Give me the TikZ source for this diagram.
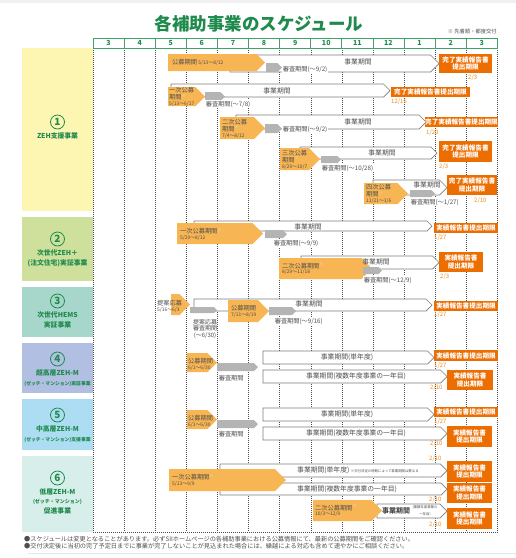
\documentclass[tikz,border=0pt]{standalone}
\usepackage{fontspec}
\setmainfont{Noto Sans CJK JP}
\usetikzlibrary{positioning}
\definecolor{mgreen}{HTML}{1E8A4C}
\definecolor{hgreen}{HTML}{3FA266}
\definecolor{korange}{HTML}{F7B553}
\definecolor{dorange}{HTML}{EC6D00}
\definecolor{lorange}{HTML}{F08C20}
\definecolor{sgray}{HTML}{B4B4B4}
\definecolor{agray}{HTML}{7D7D7D}
\definecolor{tgray}{HTML}{4E4E4E}
\definecolor{bgyellow}{HTML}{FDF6B3}
\definecolor{bggreen}{HTML}{CFE09C}
\definecolor{bgteal}{HTML}{A6D7CA}
\definecolor{bgviolet}{HTML}{B1BFE2}
\definecolor{bgblue}{HTML}{ADDDF3}
\definecolor{bgpale}{HTML}{D7EEEA}

% bar with a pointed end: style, left x, tip x, top y, bottom y
\newcommand{\penta}[5]{\path[#1] (#2,#4) -- ({#3-(#5-#4)/2},#4) -- (#3,{(#4+#5)/2}) -- ({#3-(#5-#4)/2},#5) -- (#2,#5) -- cycle;}
\newcommand{\kome}{\textsuperscript{\color{white!75!gray}※}}
\newcommand{\dt}[1]{{\fontsize{4.9}{5.6}\selectfont #1}}

\begin{document}
\begin{tikzpicture}[x=1pt, y=-1pt,
  koubo/.style={fill=korange},
  shinsa/.style={fill=sgray},
  jigyo/.style={fill=white, draw=agray, line width=0.7pt},
  gridline/.style={draw=black!70, line width=0.4pt, dash pattern=on 1pt off 1pt},
  hdr/.style={draw=hgreen, line width=0.8pt},
  mon/.style={text=mgreen, font=\fontsize{7}{7}\selectfont\bfseries, inner sep=0pt},
  limit/.style={fill=dorange, text=white, font=\fontsize{6.6}{7.6}\selectfont\bfseries, inner sep=0pt, align=center},
  hiduke/.style={text=lorange, font=\fontsize{6}{6}\selectfont, inner sep=0pt, anchor=west},
  ktext/.style={text=tgray, font=\fontsize{6.2}{5.8}\selectfont, inner sep=0pt, anchor=west, align=left},
  stext/.style={text=tgray, font=\fontsize{6.2}{6.2}\selectfont, inner sep=0.6pt, anchor=west, fill=white},
  jtext/.style={text=tgray, font=\fontsize{6.8}{6.8}\selectfont, inner sep=0pt},
  tiny/.style={text=tgray, font=\fontsize{3.4}{3.4}\selectfont, inner sep=0pt},
  num/.style={circle, draw=mgreen, line width=0.8pt, text=mgreen, minimum size=14pt, inner sep=0pt, font=\fontsize{10}{10}\selectfont\bfseries},
  cat/.style={text=mgreen, font=\fontsize{6.8}{9.6}\selectfont\bfseries, align=center, inner sep=0pt},
  note/.style={text=tgray, font=\fontsize{6.2}{6.2}\selectfont, inner sep=0pt, anchor=west}
]
\useasboundingbox (0,0) rectangle (516,558);
\fill[black!6] (0,0) rectangle (516,3);

% title
\node[text=mgreen, font=\fontsize{17.5}{17.5}\selectfont\bfseries, inner sep=0pt] (title) at (259,24) {各補助事業のスケジュール};
\node[text=tgray, font=\fontsize{5.3}{5.3}\selectfont, inner sep=0pt, anchor=east] (kofu) at (497,31) {※ 先着順・都度交付};

% month grid
\foreach \i in {0,...,13}
  \draw[gridline] ({93+31.1*\i},48) -- ({93+31.1*\i},532);
\draw[gridline] (93,532) -- (497.3,532);
\draw[hdr] (93,38) rectangle (497.3,48);
\foreach \i in {1,...,12}
  \draw[hdr] ({93+31.1*\i},38) -- ({93+31.1*\i},48);
\foreach \m [count=\i from 0] in {3,4,5,6,7,8,9,10,11,12,1,2,3}
  \node[mon] (m\i) at ({108.55+31.1*\i},43) {\m};

% categories
\fill[bgyellow] (22,48) rectangle (93,211);
\fill[bggreen] (22,217) rectangle (93,281);
\fill[bgteal] (22,287) rectangle (93,337);
\fill[bgviolet] (22,343) rectangle (93,393);
\fill[bgblue] (22,399) rectangle (93,450);
\fill[bgpale] (22,456) rectangle (93,532);
\node[num] (n1) at (57.5,122) {1};
\node[cat, below=3pt of n1] (cat1) {ZEH支援事業};
\node[num] (n2) at (57.5,239) {2};
\node[cat, below=3pt of n2] (cat2) {次世代ZEH＋\\(注文住宅)実証事業};
\node[num] (n3) at (57.5,301) {3};
\node[cat, below=3pt of n3] (cat3) {次世代HEMS\\実証事業};
\node[num] (n4) at (57.5,359) {4};
\node[cat, below=3pt of n4] (cat4) {超高層ZEH-M\\{\fontsize{4.8}{5}\selectfont (ゼッチ・マンション)実証事業}};
\node[num] (n5) at (57.5,415) {5};
\node[cat, below=3pt of n5] (cat5) {中高層ZEH-M\\{\fontsize{4.8}{5}\selectfont (ゼッチ・マンション)支援事業}};
\node[num] (n6) at (57.5,478) {6};
\node[cat, below=3pt of n6] (cat6) {低層ZEH-M\\{\fontsize{5}{5}\selectfont (ゼッチ・マンション)}\\促進事業};

% 1 ZEH
\penta{jigyo}{230}{439}{55}{72}
\penta{koubo}{168}{265}{54}{71}
\penta{shinsa}{266}{282}{63}{72}
\node[ktext] (k1a) at (172,62.5) {公募期間 \dt{5/13～8/12}};
\node[stext] (s1a) at (282,69.5) {審査期間(～9/2)};
\node[jtext] (j1a) at (358,62) {事業期間};
\node[limit, minimum width=53, minimum height=19] (l1a) at (465.5,63.5) {完了実績報告書\\提出期限};
\node[hiduke] (d1a) at (468,78) {2/3};

\penta{jigyo}{171}{390}{84}{97}
\penta{koubo}{168}{205}{87}{106}
\penta{shinsa}{205}{225}{92}{101}
\node[ktext] (k1b) at (169,97) {一次公募\\期間\kome\\\dt{5/13～6/17}};
\node[stext] (s1b) at (205,104) {審査期間(～7/8)};
\node[jtext] (j1b) at (277,91) {事業期間};
\node[limit, minimum width=79, minimum height=10] (l1b) at (430.5,92) {完了実績報告書提出期限};
\node[hiduke] (d1b) at (391,102) {12/16};

\penta{jigyo}{236}{426}{115}{129}
\penta{koubo}{220}{265}{117}{139}
\penta{shinsa}{265}{282}{124}{133}
\node[ktext] (k1c) at (222,128.5) {二次公募\\期間\kome\\\dt{7/4～8/12}};
\node[stext] (s1c) at (282,129) {審査期間(～9/2)};
\node[jtext] (j1c) at (358,122) {事業期間};
\node[limit, minimum width=71, minimum height=10] (l1c) at (461.5,122) {完了実績報告書提出期限};
\node[hiduke] (d1c) at (426,132.5) {1/20};

\penta{jigyo}{300}{437}{147}{159}
\penta{koubo}{280}{320}{148}{170}
\penta{shinsa}{321}{341}{156}{163}
\node[ktext] (k1d) at (282,159.5) {三次公募\\期間\kome\\\dt{8/29～10/7}};
\node[stext] (s1d) at (321,168) {審査期間(～10/28)};
\node[jtext] (j1d) at (382,153) {事業期間};
\node[limit, minimum width=53, minimum height=21] (l1d) at (465.5,151.5) {完了実績報告書\\提出期限};
\node[hiduke] (d1d) at (439,167) {2/3};

\penta{jigyo}{373}{447}{180}{195}
\penta{koubo}{364}{408}{183}{204}
\penta{shinsa}{410}{435}{190}{197}
\node[ktext] (k1e) at (366,194) {四次公募\\期間\kome\\\dt{11/21～1/6}};
\node[stext] (s1e) at (410,202) {審査期間(～1/27)};
\node[jtext] (j1e) at (427,185) {事業期間};
\node[limit, minimum width=50, minimum height=20] (l1e) at (472,185) {完了実績報告書\\提出期限};
\node[hiduke] (d1e) at (474,201) {2/10};

% 2 ZEH+
\penta{jigyo}{194}{432}{221}{231}
\penta{koubo}{177}{263}{223}{244}
\penta{shinsa}{265}{287}{230}{238}
\node[ktext] (k2a) at (180,234) {一次公募期間\kome\\\dt{5/20～8/12}};
\node[stext] (s2a) at (273,243) {審査期間(～9/9)};
\node[jtext] (j2a) at (308,227) {事業期間};
\node[limit, minimum width=64, minimum height=10] (l2a) at (466,228) {実績報告書提出期限};
\node[hiduke] (d2a) at (434,238) {1/27};

\penta{jigyo}{301}{439}{256}{269}
\penta{koubo}{279}{372}{258}{279}
\penta{shinsa}{363}{382}{267}{274}
\node[ktext] (k2b) at (282,268.5) {二次公募期間\kome\\\dt{8/29～11/18}};
\node[stext] (s2b) at (363,280) {審査期間(～12/9)};
\node[jtext] (j2b) at (376,261.5) {事業期間};
\node[limit, minimum width=44, minimum height=20] (l2b) at (461,262) {実績報告書\\提出期限};
\node[hiduke] (d2b) at (440,277) {2/3};

% 3 HEMS
\penta{jigyo}{194}{432}{299}{311}
\penta{koubo}{171}{190}{294}{315}
\penta{shinsa}{190}{217}{307}{313}
\node[ktext] (k3a) at (157,306) {提案応募\\\dt{5/16～6/3}};
\node[text=tgray, font=\fontsize{6}{6.5}\selectfont, inner sep=0pt, align=center, fill=white] (s3a) at (205,329) {提案応募\\審査期間\\(～6/30)};
\penta{koubo}{228}{269}{300}{322}
\penta{shinsa}{269}{296}{307}{315}
\node[ktext] (k3b) at (231,311) {公募期間\\\dt{7/11～8/19}};
\node[stext] (s3b) at (274,321) {審査期間(～9/16)};
\node[jtext] (j3) at (309,304) {事業期間};
\node[limit, minimum width=64, minimum height=10] (l3) at (466,305.5) {実績報告書提出期限};
\node[hiduke] (d3) at (434,315) {1/27};

% 4 high-rise
\penta{jigyo}{263}{434}{351}{364}
\penta{jigyo}{263}{447}{370}{383}
\penta{koubo}{187}{217}{353}{372}
\penta{shinsa}{217}{258}{363}{371}
\node[ktext] (k4) at (188,364) {公募期間\\\dt{6/1～6/30}};
\node[stext] (s4) at (218,378) {審査期間};
\node[jtext] (j4a) at (347,357.5) {事業期間(単年度)};
\node[jtext] (j4b) at (356,376.5) {事業期間(複数年度事業の一年目)};
\node[limit, minimum width=64, minimum height=11] (l4a) at (466,355.5) {実績報告書提出期限};
\node[hiduke] (d4a) at (434,366) {1/27};
\node[limit, minimum width=46, minimum height=20] (l4b) at (470,380) {実績報告書\\提出期限};
\node[hiduke] (d4b) at (430,388) {2/10};

% 5 mid-rise
\penta{jigyo}{263}{434}{408}{421}
\penta{jigyo}{263}{447}{427}{440}
\penta{koubo}{187}{217}{410}{429}
\penta{shinsa}{217}{258}{420}{428}
\node[ktext] (k5) at (188,421) {公募期間\\\dt{6/1～6/30}};
\node[stext] (s5) at (218,434.5) {審査期間};
\node[jtext] (j5a) at (347,414.5) {事業期間(単年度)};
\node[jtext] (j5b) at (356,433.5) {事業期間(複数年度事業の一年目)};
\node[limit, minimum width=64, minimum height=10] (l5a) at (466,411.5) {実績報告書提出期限};
\node[hiduke] (d5a) at (434,422) {1/27};
\node[limit, minimum width=45, minimum height=21] (l5b) at (469.5,436.5) {実績報告書\\提出期限};
\node[hiduke] (d5b) at (430,444) {2/10};

% 6 low-rise
\penta{jigyo}{220}{447}{464}{477}
\penta{jigyo}{220}{447}{483}{495}
\penta{koubo}{169}{286}{469}{491}
\penta{jigyo}{377}{447}{504}{518}
\penta{koubo}{313}{382}{500}{521}
\node[ktext] (k6a) at (172,480) {一次公募期間\kome\\\dt{5/13～9/9}};
\node[ktext] (k6b) at (315,510.5) {二次公募期間\kome\\\dt{10/3～12/9}};
\node[jtext, anchor=west] (j6a) at (297,470.5) {事業期間(単年度) {\fontsize{3.4}{3.4}\selectfont ※交付決定の時期によって事業期間は異なる}};
\node[jtext] (j6b) at (347,489) {事業期間(複数年度事業の一年目)};
\node[jtext, font=\fontsize{7}{7}\selectfont\bfseries] (j6c) at (396,511) {事業期間};
\node[tiny] (j6n) at (425,507.5) {(複数年度事業の};
\node[tiny] (j6m) at (425,514.5) {一年目)};
\node[limit, minimum width=45, minimum height=21] (l6a) at (469.5,471.5) {実績報告書\\提出期限};
\node[hiduke] (d6a) at (429,459) {2/10};
\node[limit, minimum width=45, minimum height=20] (l6b) at (469.5,493) {実績報告書\\提出期限};
\node[hiduke] (d6b) at (429,499.5) {2/10};
\node[limit, minimum width=45, minimum height=21] (l6c) at (469.5,518.5) {実績報告書\\提出期限};
\node[hiduke] (d6c) at (429,525) {2/10};

% footer
\node[note] (f1) at (24,539) {●スケジュールは変更となることがあります。必ずSIIホームページの各補助事業における公募情報にて、最新の公募期間をご確認ください。};
\node[note] (f2) at (24,546.5) {●交付決定後に当初の完了予定日までに事業が完了しないことが見込まれた場合には、繰越による対応も含めて速やかにご相談ください。};
\draw[bgpale, line width=1pt] (28,553.5) -- (516,553.5);
\end{tikzpicture}
\end{document}
